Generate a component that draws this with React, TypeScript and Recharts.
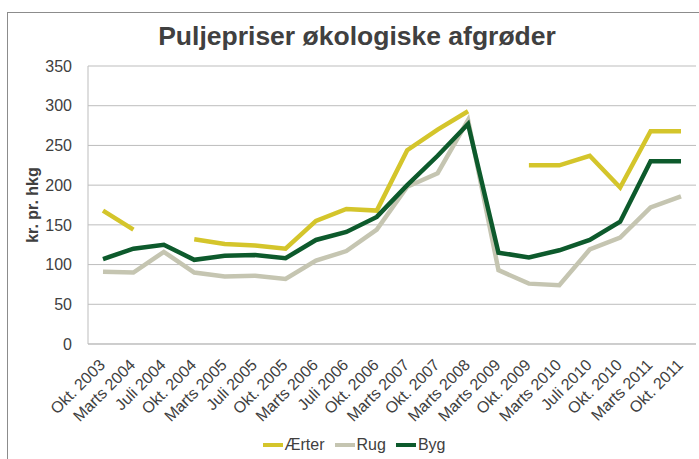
import React from "react";
import { LineChart, Line, XAxis, YAxis, CartesianGrid } from "recharts";

const categories = [
  "Okt. 2003", "Marts 2004", "Juli 2004", "Okt. 2004", "Marts 2005", "Juli 2005",
  "Okt. 2005", "Marts 2006", "Juli 2006", "Okt. 2006", "Marts 2007", "Okt. 2007",
  "Marts 2008", "Marts 2009", "Okt. 2009", "Marts 2010", "Juli 2010", "Okt. 2010",
  "Marts 2011", "Okt. 2011",
];
const aerter = [168, 144, null, 132, 126, 124, 120, 155, 170, 168, 244, 270, 293, null, 225, 225, 237, 197, 268, 268];
const rug = [91, 90, 116, 90, 85, 86, 82, 105, 117, 144, 198, 215, 282, 93, 76, 74, 119, 134, 172, 186];
const byg = [107, 120, 125, 106, 111, 112, 108, 131, 141, 160, 200, 237, 277, 115, 109, 118, 131, 154, 230, 230];
const yTicks = [0, 50, 100, 150, 200, 250, 300, 350];

const series = [
  { key: "aerter", name: "Ærter", color: "#d4c52b", values: aerter },
  { key: "rug", name: "Rug", color: "#c5c5b1", values: rug },
  { key: "byg", name: "Byg", color: "#0d5a2c", values: byg },
];

const data = categories.map((name, i) => ({
  name,
  aerter: aerter[i],
  rug: rug[i],
  byg: byg[i],
}));

const font = "'Liberation Sans', Arial, sans-serif";
const textColor = "#404040";

function XTick({ x, y, payload }: any) {
  const bx = x + 3;
  const by = y + 14;
  return (
    <text
      x={bx}
      y={by}
      transform={`rotate(-45 ${bx} ${by})`}
      textAnchor="end"
      fontSize={16}
      fontFamily={font}
      fill={textColor}
    >
      {payload.value}
    </text>
  );
}

export default function App() {
  return (
    <div style={{ position: "absolute", left: 0, top: 0, width: 699, height: 459, overflow: "hidden", background: "#fff", fontFamily: font }}>
      <div style={{ position: "absolute", left: 7, top: 12, width: 760, height: 520, border: "1px solid #8c8c8c" }} />
      <div style={{ position: "absolute", left: 0, top: 21, width: 714, textAlign: "center", fontSize: 26.5, fontWeight: "bold", color: textColor }}>
        Puljepriser økologiske afgrøder
      </div>
      <div style={{ position: "absolute", left: 33, top: 205, transform: "translate(-50%, -50%) rotate(-90deg)", whiteSpace: "nowrap", fontSize: 16, fontWeight: "bold", color: textColor }}>
        kr. pr. hkg
      </div>
      <div style={{ position: "absolute", left: 0, top: 0 }}>
        <LineChart width={699} height={459} data={data} margin={{ top: 66, right: 3, left: 0, bottom: 22 }}>
          <CartesianGrid vertical={false} stroke="#bdbdbd" />
          <XAxis
            dataKey="name"
            interval={0}
            height={93}
            padding={{ left: 15, right: 15 }}
            tick={<XTick />}
            tickLine={false}
            axisLine={{ stroke: "#bdbdbd" }}
          />
          <YAxis
            width={88}
            domain={[0, 350]}
            ticks={yTicks}
            interval={0}
            tickLine={false}
            tickMargin={10}
            axisLine={{ stroke: "#bdbdbd" }}
            tick={{ fontSize: 16, fill: textColor, fontFamily: font }}
          />
          {series.map(s => (
            <Line
              key={s.key}
              type="linear"
              dataKey={s.key}
              name={s.name}
              stroke={s.color}
              strokeWidth={4.5}
              dot={false}
              activeDot={false}
              isAnimationActive={false}
            />
          ))}
        </LineChart>
      </div>
      <div style={{ position: "absolute", left: 2, top: 436, width: 714, display: "flex", justifyContent: "center", fontSize: 16, color: textColor }}>
        {series.map(s => (
          <div key={s.key} style={{ display: "flex", alignItems: "center", marginRight: 10 }}>
            <div style={{ width: 20, height: 4, background: s.color, marginRight: 2 }} />
            <span>{s.name}</span>
          </div>
        ))}
      </div>
    </div>
  );
}
